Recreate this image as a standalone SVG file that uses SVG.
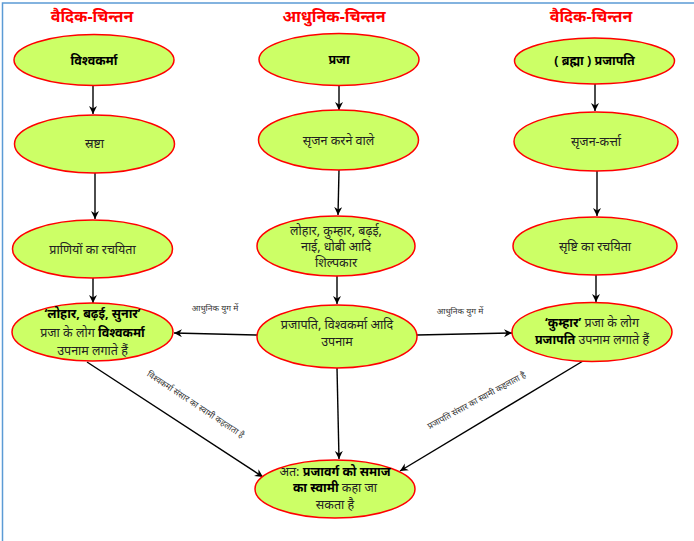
<svg xmlns="http://www.w3.org/2000/svg" width="694" height="541" viewBox="0 0 694 541">
<defs>
<style>
.bg{fill:#ffffff}
.frame{stroke:#5b9bd5;stroke-width:1.5;fill:none}
.node ellipse{fill:#ccff66;stroke:#ff0000;stroke-width:1.5}
.t{font-family:"Noto Sans","Noto Sans Devanagari","Lohit Devanagari",sans-serif;font-size:12.5px;fill:#222;text-anchor:middle}
.b{font-weight:bold;fill:#000}
.h{font-family:"Noto Sans","Noto Sans Devanagari","Lohit Devanagari",sans-serif;font-size:16px;font-weight:bold;fill:#ff0000;text-anchor:middle}
.lbl{font-family:"Noto Sans","Noto Sans Devanagari","Lohit Devanagari",sans-serif;font-size:8.5px;fill:#333;text-anchor:middle}
.c line{stroke:#000;stroke-width:1.4;marker-end:url(#ah)}
</style>
<marker id="ah" markerUnits="userSpaceOnUse" markerWidth="10" markerHeight="10" refX="8" refY="4" orient="auto">
<path d="M0,0 L8,4 L0,8 L2.5,4 Z" fill="#000"/>
</marker>
</defs>
<rect class="bg" width="694" height="541"/>
<path class="frame" d="M2.5,541 V3 H694"/>

<g id="headings">
<text class="h" x="92" y="22">वैदिक-चिन्तन</text>
<text class="h" x="334" y="22">आधुनिक-चिन्तन</text>
<text class="h" x="591" y="22">वैदिक-चिन्तन</text>
</g>

<g id="connectors" class="c">
<line x1="93" y1="86" x2="93" y2="114"/>
<line x1="95" y1="173" x2="95" y2="219"/>
<line x1="93" y1="278" x2="93" y2="303"/>
<line x1="339" y1="86" x2="339" y2="110"/>
<line x1="339" y1="170" x2="338" y2="215"/>
<line x1="337" y1="276" x2="337" y2="304"/>
<line x1="595" y1="83" x2="595" y2="111"/>
<line x1="597" y1="171" x2="597" y2="216"/>
<line x1="596" y1="275" x2="596" y2="302"/>
<line x1="257" y1="335" x2="174" y2="333"/>
<line x1="417" y1="335" x2="512" y2="333"/>
<line x1="87" y1="362" x2="263" y2="477"/>
<line x1="337" y1="368" x2="339" y2="459"/>
<line x1="583" y1="361" x2="400" y2="471"/>
</g>

<g id="labels">
<text class="lbl" x="215" y="311">आधुनिक युग में</text>
<text class="lbl" x="460" y="314">आधुनिक युग में</text>
<text class="lbl" transform="translate(194,407) rotate(33.4)" x="0" y="0">विश्वकर्मा संसार का स्वामी कहलाता है</text>
<text class="lbl" transform="translate(478,403) rotate(-28.5)" x="0" y="0">प्रजापति संसार का स्वामी कहलाता है</text>
</g>

<g id="n1" class="node"><ellipse cx="94" cy="60" rx="80" ry="25.5"/><text class="t b" x="94" y="65">विश्वकर्मा</text></g>
<g id="n2" class="node"><ellipse cx="339" cy="59.5" rx="80" ry="26"/><text class="t b" x="339" y="64">प्रजा</text></g>
<g id="n3" class="node"><ellipse cx="594.5" cy="61" rx="80" ry="23"/><text class="t b" x="594.5" y="65">( ब्रह्मा ) प्रजापति</text></g>

<g id="n4" class="node"><ellipse cx="94.5" cy="144" rx="80" ry="29"/><text class="t" x="94.5" y="148">स्रष्टा</text></g>
<g id="n5" class="node"><ellipse cx="338.5" cy="140" rx="80" ry="30"/><text class="t" x="338.5" y="145">सृजन करने वाले</text></g>
<g id="n6" class="node"><ellipse cx="596" cy="141.5" rx="82" ry="29.5"/><text class="t" x="596" y="146">सृजन-कर्त्ता</text></g>

<g id="n7" class="node"><ellipse cx="92.5" cy="249" rx="80" ry="29"/><text class="t" x="92.5" y="254">प्राणियों का रचयिता</text></g>
<g id="n8" class="node"><ellipse cx="336" cy="246" rx="79" ry="30"/>
<text class="t" x="336" y="235">लोहार, कुम्हार, बढ़ई,</text>
<text class="t" x="336" y="251">नाई, धोबी आदि</text>
<text class="t" x="336" y="267">शिल्पकार</text></g>
<g id="n9" class="node"><ellipse cx="595" cy="246" rx="82" ry="29"/><text class="t" x="595" y="251">सृष्टि का रचयिता</text></g>

<g id="n10" class="node"><ellipse cx="92.5" cy="332" rx="80.5" ry="29"/>
<text class="t b" x="92.5" y="318">‘लोहार, बढ़ई, सुनार’</text>
<text class="t" x="92.5" y="337">प्रजा के लोग <tspan class="b">विश्वकर्मा</tspan></text>
<text class="t" x="92.5" y="355">उपनाम लगाते हैं</text></g>
<g id="n11" class="node"><ellipse cx="337" cy="336.5" rx="80" ry="31.5"/>
<text class="t" x="337" y="329">प्रजापति, विश्वकर्मा आदि</text>
<text class="t" x="337" y="346">उपनाम</text></g>
<g id="n12" class="node"><ellipse cx="592" cy="332" rx="80" ry="29.5"/>
<text class="t" x="592" y="327"><tspan class="b">‘कुम्हार’</tspan> प्रजा के लोग</text>
<text class="t" x="592" y="344"><tspan class="b">प्रजापति</tspan> उपनाम लगाते हैं</text></g>

<g id="n13" class="node"><ellipse cx="335" cy="489" rx="80" ry="29"/>
<text class="t" x="335" y="476">अत: <tspan class="b">प्रजावर्ग को समाज</tspan></text>
<text class="t" x="335" y="492"><tspan class="b">का स्वामी</tspan> कहा जा</text>
<text class="t" x="335" y="509">सकता है</text></g>
</svg>
